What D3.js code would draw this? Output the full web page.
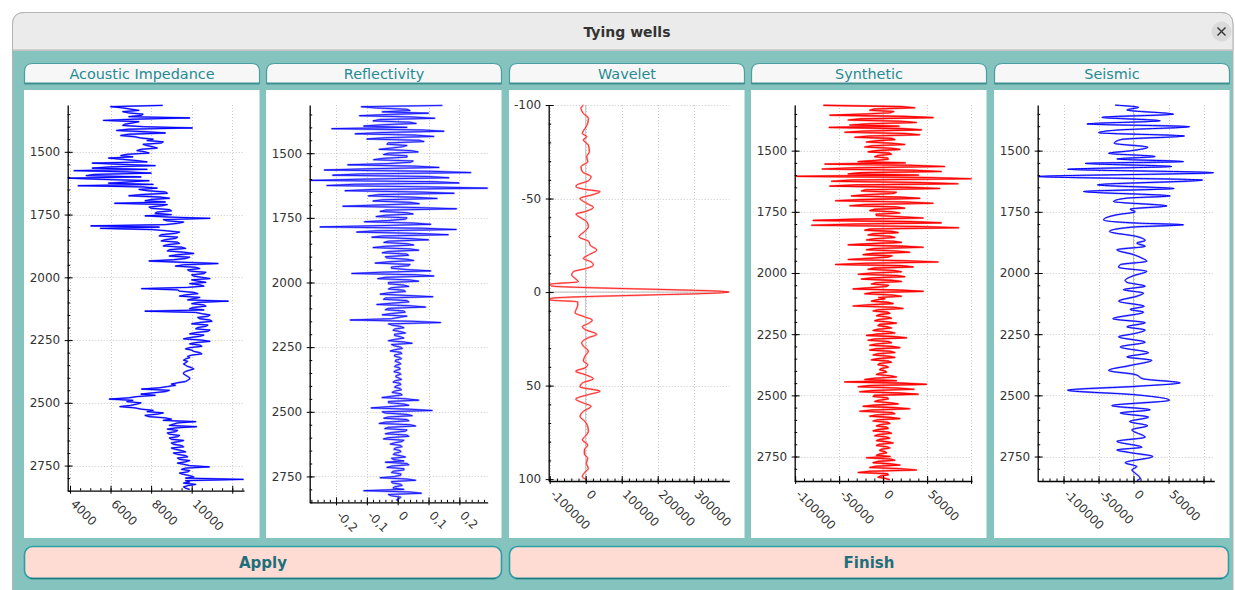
<!DOCTYPE html>
<html><head><meta charset="utf-8">
<script src="https://cdn.jsdelivr.net/npm/d3@7"></script>
<style>body{margin:0;background:#fff;overflow:hidden}svg{display:block}</style>
</head><body><svg id="c" width="1235" height="590"></svg>
<script>
// ---------------- DATA ----------------
const panelTitles = ["Acoustic Impedance","Reflectivity","Wavelet","Synthetic","Seismic"];
const buttonLabels = ["Apply","Finish"];
const windowTitle = "Tying wells";

// depth logs sampled every 5 m from 1315 m
const logTop = 1315, logStep = 5;
const acousticImpedance = [
8570,6000,6600,7000,7400,6600,6900,7600,7500,6900,
9900,7200,5650,7400,7100,6700,6600,7600,10030,6900,
6300,7700,8700,6900,6500,7200,7500,8100,7800,8600,
8500,7600,7800,8100,8300,7500,7300,7700,7900,6800,
6500,7100,5900,6600,7300,7800,5100,6500,8200,6000,
5100,7800,4200,6800,8000,5200,4800,7500,3920,5600,
7900,6900,5900,8100,4400,7600,8300,7400,7800,8700,
8800,7600,6900,8400,8900,8000,7700,8700,6200,8800,
8500,7900,8000,8900,9000,8300,8200,9000,7700,8900,
10900,8600,8800,9600,9300,8700,5030,8400,5500,8100,
8800,9400,9200,8500,8400,9300,9200,8700,8500,9300,
9400,8800,8600,9500,9700,8900,8800,9600,10100,9300,
8900,9900,9700,9100,7900,9500,11300,9600,9200,10200,
10400,9800,9900,10700,10600,10000,10100,10500,10900,10000,
10300,10700,9900,10400,10600,9800,7530,9300,9400,10100,
10300,9700,9400,10400,10100,9800,11800,10300,10000,10600,
10700,10100,9900,10600,7700,10200,10500,10900,10800,10300,
10400,10900,11000,10400,10000,10800,10700,10300,10200,10900,
10800,10200,9900,10600,10400,9900,9600,10500,10900,10200,
9900,10400,10500,9900,9700,10000,10100,10400,10500,10000,
9800,9900,9700,9600,9800,9700,9600,9700,9800,10000,
10100,9900,9700,9600,9600,9700,9800,9900,9900,9800,
9700,9300,9000,9200,8800,8400,7530,8900,8700,8100,
7500,8200,7300,6900,5940,7100,6800,7500,7300,7000,
6460,7200,7500,8100,7800,8600,8300,7700,7900,8700,
9000,8600,10200,9300,9100,8900,10240,9200,8800,9300,
9200,8800,8900,9400,9300,8900,9000,9600,9300,9000,
9100,9500,9600,9000,9200,9500,9700,9100,9300,9700,
9800,9300,9400,9900,9700,9300,9600,9900,10870,9700,
9500,9900,9800,9400,9600,9900,10100,9700,12540,9700,
9900,9600,10200,9800,9600,9700,9900];
const reflectivity = [
0.145,-0.118,-0.07,0.03,0.04,-0.05,0.10,-0.03,-0.124,0.05,
0.12,-0.06,-0.08,0.04,0.06,-0.05,-0.11,0.03,-0.214,0.08,
0.15,-0.05,-0.138,0.06,0.117,-0.04,-0.10,0.07,0.085,-0.03,
-0.035,0.03,0.015,-0.02,-0.06,0.045,0.066,-0.03,-0.046,0.03,
0.03,-0.05,-0.078,0.05,0.041,-0.03,-0.162,0.06,0.134,-0.09,
-0.238,0.11,0.237,-0.12,-0.211,0.1,0.166,-0.1,-0.285,0.12,
0.199,-0.14,-0.23,0.09,0.291,-0.08,-0.171,0.07,0.183,-0.06,
-0.095,0.05,0.128,-0.05,-0.08,0.04,0.07,-0.06,-0.178,0.06,
0.191,-0.04,-0.057,0.03,0.05,-0.04,-0.07,0.03,0.025,-0.03,
-0.108,0.05,0.107,-0.06,-0.252,0.08,0.19,-0.07,-0.133,0.06,
0.164,-0.05,-0.084,0.04,0.1,-0.03,-0.045,0.03,0.052,-0.04,
-0.08,0.04,0.068,-0.03,-0.05,0.03,0.035,-0.04,-0.035,0.03,
0.052,-0.03,-0.073,0.04,0.036,-0.02,-0.02,0.03,0.107,-0.05,
-0.149,0.06,0.117,-0.04,-0.065,0.04,0.068,-0.03,-0.03,0.02,
0.036,-0.02,-0.03,0.02,0.025,-0.03,-0.057,0.03,0.114,-0.04,
-0.046,0.03,0.036,-0.02,-0.068,0.04,0.09,-0.03,-0.04,0.02,
0.024,-0.02,-0.05,0.03,0.003,-0.02,-0.154,0.05,0.139,-0.03,
-0.018,0.01,0.02,-0.01,-0.015,0.01,0.025,-0.01,-0.01,0.01,
0.02,-0.01,-0.03,0.02,0.047,-0.02,-0.01,0.01,0.015,-0.01,
-0.024,0.01,0.013,-0.01,-0.01,0.008,0.012,-0.006,-0.008,0.006,
0.01,-0.005,-0.01,0.006,0.008,-0.005,-0.012,0.006,0.01,-0.005,
-0.006,0.005,0.012,-0.008,-0.015,0.008,0.01,-0.006,-0.01,0.008,
0.012,-0.01,-0.018,0.01,0.014,-0.02,-0.051,0.03,0.068,-0.03,
-0.03,0.02,0.036,-0.03,-0.086,0.04,0.112,-0.05,-0.04,0.03,
0.047,-0.03,-0.045,0.03,0.036,-0.04,-0.06,0.04,0.058,-0.03,
-0.042,0.03,0.025,-0.02,-0.04,0.03,0.036,-0.03,-0.046,0.02,
0.014,-0.01,-0.024,0.01,0.014,-0.008,-0.012,0.008,0.01,-0.01,
-0.014,0.01,0.025,-0.02,-0.012,0.02,-0.04,0.03,0.036,-0.02,
-0.035,0.02,0.02,-0.015,-0.02,0.01,0.01,-0.01,-0.057,0.03,
0.058,-0.02,-0.018,0.01,0.014,-0.01,-0.015,0.02,-0.11,0.04,
0.077,-0.03,-0.02,0.01,0.005,-0.003,0.0];
const synthetic = [
-67900,20000,35800,-10000,-15000,12000,7500,-20000,-60400,25000,
56600,-25000,-39600,20000,37700,-15000,-37700,18000,-61100,20000,
43400,-20000,-43400,25000,41500,-15000,-32100,10000,13200,-8000,
-18900,10000,24500,-12000,-20800,9000,18900,-8000,-17000,7000,
9400,-6000,-9400,5000,5700,-10000,-28300,25000,-66000,30000,
69800,-30000,-69100,35000,66000,-25000,-39600,40000,-98100,50000,
100000,-35000,-58500,40000,84900,-30000,-60400,30000,64200,-20000,
-24500,15000,11300,-20000,-35900,20000,41500,-25000,-54000,25000,
56600,-20000,-37700,15000,24500,-10000,-15100,10000,18900,-8000,
-7500,20000,45300,-30000,-79300,30000,66000,-30000,-81100,40000,
85700,-15000,-20800,10000,17000,-12000,-17000,8000,13200,-10000,
-18900,12000,20800,-15000,-39600,20000,45300,-10000,-18900,15000,
30200,-12000,-22600,10000,5700,-15000,-39600,25000,62300,-20000,
-54000,20000,34000,-10000,-17000,12000,20800,-12000,-28300,15000,
24500,-12000,-24500,10000,20800,-8000,-13200,6000,3800,-15000,
-34000,20000,45300,-12000,-20800,10000,20800,-5000,2000,-8000,
-13200,6000,11300,-15000,-34000,12000,22600,-6000,-11300,5000,
7500,-4000,-7500,5000,9400,-5000,-9400,6000,15100,-4000,
-5700,5000,9400,-6000,-11300,7000,13200,-8000,-18900,12000,
26400,-10000,-17000,6000,9400,-8000,-15100,10000,18900,-8000,
-15100,8000,13200,-6000,-11300,7000,13200,-6000,-13200,6000,
9400,-4000,-5700,3000,5700,-2000,-3800,2000,3800,-4000,
-7500,8000,15100,-10000,-20800,15000,-43400,20000,49100,-15000,
-28300,15000,35000,-12000,-26400,15000,39600,-10000,-11300,5000,
5700,-5000,-9400,8000,17000,-10000,-22600,12000,30200,-12000,
-26400,10000,13200,-8000,-15100,8000,18900,-6000,-11300,5000,
7500,-4000,-7500,4000,5700,-6000,-11300,5000,9400,-5000,
-9400,4000,7500,-4000,-7500,5000,11300,-4000,-7500,4000,
7500,-2000,-3800,2000,3800,-4000,-7500,8000,-18900,8000,
13200,-6000,-11300,8000,18900,-8000,-15100,20000,37700,-15000,
-28300,5000,5700,-3000,-5700,3000,7500];
const seismicDepth = [1314,1323,1334,1351,1364,1378,1391,1402,1416,1427,1440,1454,1470,1486,1500,1511,1524,1534,1545,1552,1565,1576,1590,1606,1620,1640,1655,1667,1685,1694,1708,1726,1739,1750,1762,1783,1796,1803,1812,1830,1851,1867,1878,1891,1905,1925,1939,1952,1966,1977,1993,2011,2030,2038,2054,2068,2082,2095,2115,2136,2149,2160,2187,2203,2220,2233,2247,2261,2283,2302,2326,2343,2357,2378,2398,2415,2433,2449,2463,2479,2497,2520,2542,2559,2572,2589,2607,2624,2641,2671,2688,2712,2723,2734,2750,2775,2791,2805,2818,2839,2848];
const seismicAmp = [-26200,7100,-9500,57100,-45200,38100,-66600,80000,-23800,-50000,72800,-16700,-27600,20500,-2400,-35700,30900,-23800,71400,-69000,54700,-94200,114200,-135700,98500,-51400,58100,-71400,52400,-9500,-28600,47600,-4800,2400,-23800,-42800,4800,71400,0,-34300,4800,16700,4800,16700,-23800,0,11900,19000,-19000,-21400,19000,0,-11900,-9500,16700,-14300,14300,4800,-21400,15200,-4800,14300,-29500,16700,-9500,16700,2400,-21400,16700,-19000,21400,-9500,26200,-4800,-35700,2400,14300,66600,4800,-94200,0,51400,-31000,23800,-19000,21400,-5700,20000,-2400,16700,-23800,11900,-23800,-4800,27600,-11900,4800,-2400,2400,9500,4800];
const waveletTime = [-100,-98.2,-95.5,-92.9,-90.2,-87.5,-84.8,-83.1,-81.3,-78.6,-75,-72.4,-69.7,-67,-64.3,-61.7,-59.5,-57.2,-56.3,-54.9,-53.7,-51.9,-50.1,-47.4,-45.3,-43,-41.7,-39.4,-37.6,-34.9,-32.3,-29.6,-26.9,-25.1,-22.5,-19.8,-18,-16.2,-14.4,-12.7,-10.9,-9.1,-7.3,-5.5,-4.2,-3.3,0,3.3,4.2,5.2,7,8.7,11.1,13.2,15,16.8,18.5,20,22.6,24.4,27.1,28.9,31.5,34.2,36.9,38.7,40.5,42.3,44.1,46.4,48.6,50.7,53,54.8,57.2,59.3,61.1,63.8,66.5,69.2,71.9,74.6,77.2,79,81.7,84.4,86.6,88.9,91.6,94.3,96.6,98.7,100];
const waveletAmp = [-6500,-13000,-6500,7400,5600,-1900,-9300,2800,-6500,7400,10200,2800,5600,-13000,-9300,14800,7400,-25000,-26900,-1900,39800,16700,-15700,2800,21300,-1900,-26900,-11100,2800,7400,-3700,-18500,9300,12000,30600,7400,-6500,14800,21300,2800,-34300,-38900,-29600,-20400,-99000,-95000,398000,-94000,-100900,-22200,-22200,-25000,-29600,-3700,18500,7400,-9300,-1850,30600,7400,-11100,-6500,7400,-1850,-6500,5600,-1850,-27800,-1850,21300,-9300,-15700,39800,7400,-27800,-6500,14800,-6500,-15700,-1850,5600,7400,-1850,-9300,5600,-3700,-3700,5600,1850,7400,-3700,-9300,0];

// axis domains and ticks
const depthDomain = [1313.5, 2850];
const depthTicks = [1500,1750,2000,2250,2500,2750];
const depthLabels = ["1500","1750","2000","2250","2500","2750"];
const aiDomain = [3887, 12579];
const aiTicks = [4000,6000,8000,10000,12000];
const aiLabels = ["4000","6000","8000","10000",""];
const reflDomain = [-0.2854, 0.2919];
const reflTicks = [-0.2,-0.1,0,0.1,0.2];
const reflLabels = ["-0,2","-0,1","0","0,1","0,2"];
const waveXDomain = [-102800, 398900];
const waveXTicks = [-100000,0,100000,200000,300000];
const waveXLabels = ["-100000","0","100000","200000","300000"];
const waveYDomain = [-100, 101];
const waveYTicks = [-100,-50,0,50,100];
const waveYLabels = ["-100","-50","0","50","100"];
const synthDomain = [-100500, 101000];
const synthTicks = [-100000,-50000,0,50000,100000];
const synthLabels = ["-100000","-50000","0","50000",""];
const seisDomain = [-136900, 115400];
const seisTicks = [-100000,-50000,0,50000,100000];
const seisLabels = ["-100000","-50000","0","50000",""];

// ---------------- DRAWING ----------------
const W = 1235, H = 590;
const svg = d3.select("#c");
const TEAL = "#85c4be";
const FONT = "'DejaVu Sans', sans-serif";

// window
const wx0 = 12.5, wy0 = 12.5, wx1 = 1233, rr = 12;
svg.append("path")
  .attr("d", `M${wx0},${H+2} V${wy0+rr} Q${wx0},${wy0} ${wx0+rr},${wy0} H${wx1-rr} Q${wx1},${wy0} ${wx1},${wy0+rr} V${H+2} Z`)
  .attr("fill", TEAL).attr("stroke", "#b3b3b3");
svg.append("path")
  .attr("d", `M${wx0},50 V${wy0+rr} Q${wx0},${wy0} ${wx0+rr},${wy0} H${wx1-rr} Q${wx1},${wy0} ${wx1},${wy0+rr} V50 Z`)
  .attr("fill", "#ebebeb").attr("stroke", "#b3b3b3");
svg.append("line").attr("x1", wx0).attr("x2", wx1).attr("y1", 50.5).attr("y2", 50.5).attr("stroke", "#c4c4c4");
svg.append("text").attr("x", 627).attr("y", 37).attr("text-anchor", "middle")
  .attr("font-family", FONT).attr("font-size", 14).attr("font-weight", "bold").attr("fill", "#333")
  .text(windowTitle);
svg.append("circle").attr("cx", 1221.5).attr("cy", 31.5).attr("r", 10).attr("fill", "#dadada");
svg.append("path").attr("d", "M1217.5,27.5 L1225.5,35.5 M1225.5,27.5 L1217.5,35.5")
  .attr("stroke", "#333").attr("stroke-width", 1.4);

const P = [24, 266, 509, 751, 994];
const PW = 235.5;

// headers + white plot areas
panelTitles.forEach((t, i) => {
  const x0 = P[i] + 0.5, x1 = P[i] + PW, y0 = 63.5, y1 = 83.5, r = 8;
  svg.append("path")
    .attr("d", `M${x0},${y1} V${y0+r} Q${x0},${y0} ${x0+r},${y0} H${x1-r} Q${x1},${y0} ${x1},${y0+r} V${y1} Z`)
    .attr("fill", "#f7f7f7").attr("stroke", "#4c9fa1").attr("stroke-width", 1.2);
  svg.append("line").attr("x1", x0).attr("x2", x1).attr("y1", y1).attr("y2", y1)
    .attr("stroke", "#3f8f92").attr("stroke-width", 2);
  svg.append("text").attr("x", (x0 + x1) / 2).attr("y", 79).attr("text-anchor", "middle")
    .attr("font-family", FONT).attr("font-size", 14.4).attr("fill", "#268a93").text(t);
  svg.append("rect").attr("x", P[i]).attr("y", 90).attr("width", PW).attr("height", 448).attr("fill", "#fff");
});

// buttons
[[24.5, 477], [509.5, 719]].forEach((b, i) => {
  svg.append("rect").attr("x", b[0]).attr("y", 546.5).attr("width", b[1]).attr("height", 32).attr("rx", 8)
    .attr("fill", "#fedcd3").attr("stroke", "#2c9ea8").attr("stroke-width", 1.6);
  svg.append("path").attr("d", `M${b[0]+6},578.5 H${b[0]+b[1]-6}`).attr("stroke", "#1f7a80").attr("stroke-width", 1.4);
  svg.append("text").attr("x", b[0] + b[1] / 2).attr("y", 567.5).attr("text-anchor", "middle")
    .attr("font-family", FONT).attr("font-size", 15).attr("font-weight", "bold").attr("fill", "#1d6f7b")
    .text(buttonLabels[i]);
});

const depthOf = (i) => logTop + i * logStep;

const panels = [
  { left: 67.7, right: 244, bottom: 490.7, xd: aiDomain, yd: depthDomain, xt: aiTicks, xl: aiLabels, xm: 500,
    yt: depthTicks, yl: depthLabels, ym: 50, zx: false, zy: false,
    traces: [{ pts: acousticImpedance.map((v, i) => [v, depthOf(i)]), color: "#0000ff", halo: "#6a6aff", w: 1.0, hw: 1.8 }] },
  { left: 309.7, right: 487.7, bottom: 502.3, xd: reflDomain, yd: depthDomain, xt: reflTicks, xl: reflLabels, xm: 0.02,
    yt: depthTicks, yl: depthLabels, ym: 50, zx: false, zy: false,
    traces: [{ pts: reflectivity.map((v, i) => [v, depthOf(i)]), color: "#0000ff", halo: "#8c8cff", w: 0.8, hw: 2.0 }] },
  { left: 548.7, right: 729.3, bottom: 481, xd: waveXDomain, yd: waveYDomain, xt: waveXTicks, xl: waveXLabels, xm: 20000,
    yt: waveYTicks, yl: waveYLabels, ym: 10, zx: true, zy: true, curve: d3.curveMonotoneY,
    traces: [{ pts: waveletAmp.map((v, i) => [v, waveletTime[i]]), color: "#ff1a1a", halo: "#ff9a9a", w: 0.9, hw: 1.9 }] },
  { left: 794.7, right: 972, bottom: 481, xd: synthDomain, yd: depthDomain, xt: synthTicks, xl: synthLabels, xm: 10000,
    yt: depthTicks, yl: depthLabels, ym: 50, zx: true, zy: false,
    traces: [{ pts: synthetic.map((v, i) => [v, depthOf(i)]), color: "#ff0000", halo: "#ff6a6a", w: 1.1, hw: 2.0 }] },
  { left: 1037.7, right: 1214.3, bottom: 481, xd: seisDomain, yd: depthDomain, xt: seisTicks, xl: seisLabels, xm: 10000,
    yt: depthTicks, yl: depthLabels, ym: 50, zx: true, zy: false, curve: d3.curveMonotoneY,
    traces: [{ pts: seismicAmp.map((v, i) => [v, seismicDepth[i]]), color: "#0000ff", halo: "#8080ff", w: 1.0, hw: 1.9 }] }
];

const TOP = 105;
panels.forEach((p, pi) => {
  const x = d3.scaleLinear().domain(p.xd).range([p.left, p.right]);
  const y = d3.scaleLinear().domain(p.yd).range([TOP, p.bottom]);
  const g = svg.append("g");
  const clipId = "clip" + pi;
  svg.append("clipPath").attr("id", clipId).append("rect")
    .attr("x", p.left).attr("y", TOP - 1).attr("width", p.right - p.left + 1).attr("height", p.bottom - TOP + 1);
  const inX = v => v >= p.xd[0] && v <= p.xd[1];

  // grid
  const grid = g.append("g").attr("stroke", "#c9c9c9").attr("stroke-dasharray", "1,2").attr("stroke-width", 1);
  p.yt.forEach(v => grid.append("line").attr("x1", p.left).attr("x2", p.right)
    .attr("y1", Math.round(y(v)) + 0.5).attr("y2", Math.round(y(v)) + 0.5));
  p.xt.filter(inX).forEach(v => grid.append("line").attr("y1", TOP).attr("y2", p.bottom)
    .attr("x1", Math.round(x(v)) + 0.5).attr("x2", Math.round(x(v)) + 0.5));
  // zero lines
  if (p.zx) g.append("line").attr("x1", x(0)).attr("x2", x(0)).attr("y1", TOP).attr("y2", p.bottom)
    .attr("stroke", "#bdbdbd").attr("stroke-width", 1);
  if (p.zy) g.append("line").attr("x1", p.left).attr("x2", p.right).attr("y1", y(0)).attr("y2", y(0))
    .attr("stroke", "#bdbdbd").attr("stroke-width", 1);

  // traces
  const line = d3.line().x(d => x(d[0])).y(d => y(d[1])).curve(p.curve || d3.curveLinear);
  const tg = g.append("g").attr("clip-path", `url(#${clipId})`);
  p.traces.forEach(t => {
    tg.append("path").attr("d", line(t.pts)).attr("fill", "none").attr("stroke", t.halo)
      .attr("stroke-width", t.hw).attr("stroke-linejoin", "round").attr("stroke-opacity", 0.85);
    tg.append("path").attr("d", line(t.pts)).attr("fill", "none").attr("stroke", t.color)
      .attr("stroke-width", t.w).attr("stroke-linejoin", "round");
  });

  // axes
  const style = sel => { sel.attr("font-family", FONT).attr("font-size", 12);
    sel.selectAll("line").attr("stroke", "#000"); sel.select(".domain").attr("stroke", "#000").attr("stroke-width", 1.3);
    sel.selectAll("text").attr("fill", "#333"); };
  const plain = s => { s.select(".domain").remove(); s.selectAll("line").attr("stroke", "#000"); };
  const yMinor = d3.range(Math.ceil(p.yd[0] / p.ym) * p.ym, p.yd[1] + 1e-9, p.ym);
  const xMinor = d3.range(Math.ceil(p.xd[0] / p.xm - 1e-9) * p.xm, p.xd[1] + 1e-9, p.xm);
  // left axis
  g.append("g").attr("transform", `translate(${p.left},0)`)
    .call(d3.axisRight(y).tickValues(yMinor).tickSize(2.5).tickSizeOuter(0).tickFormat("")).call(plain);
  g.append("g").attr("transform", `translate(${p.left},0)`)
    .call(d3.axisRight(y).tickValues(p.yt).tickSize(5).tickSizeOuter(0).tickFormat("")).call(plain);
  g.append("g").attr("transform", `translate(${p.left},0)`)
    .call(d3.axisLeft(y).tickValues(p.yt).tickSize(3).tickSizeOuter(0).tickPadding(4.5)
      .tickFormat((d, i) => p.yl[i]))
    .call(style);
  // bottom axis
  const xMaj = p.xt.filter(inX);
  g.append("g").attr("transform", `translate(0,${p.bottom})`)
    .call(d3.axisTop(x).tickValues(xMinor).tickSize(2.5).tickSizeOuter(0).tickFormat("")).call(plain);
  g.append("g").attr("transform", `translate(0,${p.bottom})`)
    .call(d3.axisTop(x).tickValues(xMaj).tickSize(5).tickSizeOuter(0).tickFormat("")).call(plain);
  const xa = g.append("g").attr("transform", `translate(0,${p.bottom})`)
    .call(d3.axisBottom(x).tickValues(xMaj).tickSize(3).tickSizeOuter(0)
      .tickFormat(d => p.xl[p.xt.indexOf(d)]))
    .call(style);
  xa.selectAll("text").attr("x", 0).attr("y", 0).attr("dy", null).attr("text-anchor", "start")
    .attr("transform", "translate(-0.5,14) rotate(45)");
});
</script></body></html>
